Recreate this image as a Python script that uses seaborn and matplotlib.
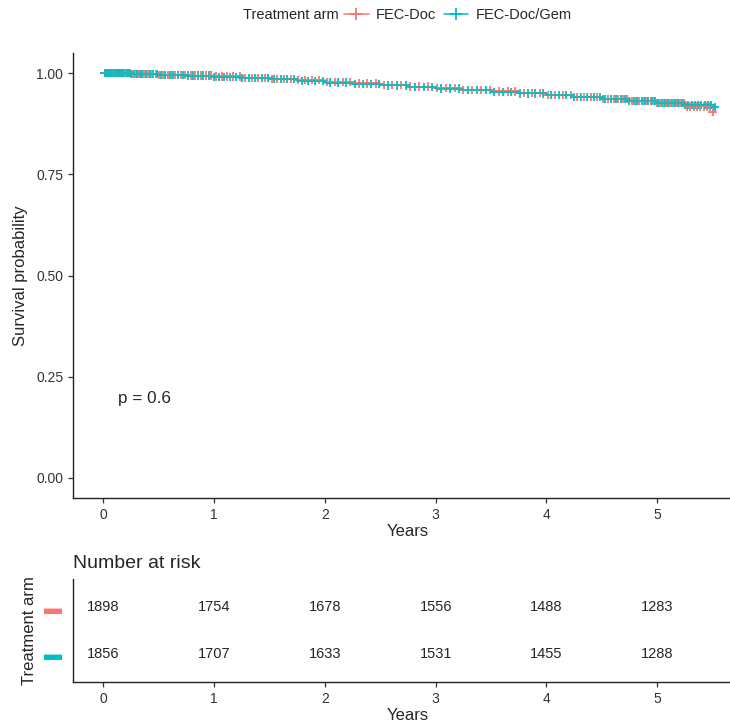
import numpy as np
import pandas as pd
import matplotlib
matplotlib.use("Agg")
import matplotlib.pyplot as plt
from matplotlib.lines import Line2D
import seaborn as sns

# =========================
# DATA
# =========================
arms = ["FEC-Doc", "FEC-Doc/Gem"]
colors = ["#F8766D", "#00BFC4"]

step_times = [0, 0.25, 0.5, 0.75, 1.0, 1.25, 1.5, 1.75, 2.0, 2.25, 2.5, 2.75,
              3.0, 3.25, 3.5, 3.75, 4.0, 4.25, 4.5, 4.75, 5.0, 5.25, 5.5]
surv_doc = [1.0, 0.998, 0.996, 0.994, 0.992, 0.989, 0.986, 0.983, 0.979, 0.975,
            0.971, 0.967, 0.963, 0.959, 0.955, 0.951, 0.947, 0.942, 0.937,
            0.932, 0.927, 0.918, 0.905]
surv_gem = [1.0, 0.998, 0.996, 0.994, 0.991, 0.988, 0.985, 0.981, 0.977, 0.974,
            0.970, 0.966, 0.962, 0.958, 0.954, 0.950, 0.946, 0.942, 0.937,
            0.932, 0.927, 0.922, 0.917]

censor_doc = [0.01, 0.02, 0.04, 0.05, 0.07, 0.08, 0.10, 0.11, 0.13, 0.15, 0.16,
              0.18, 0.20, 0.22, 0.24, 0.26, 0.29, 0.31, 0.34, 0.37, 0.40, 0.43,
              0.47, 0.50, 0.54, 0.58, 0.61, 0.65, 0.70, 0.74, 0.79, 0.83, 0.88,
              0.93, 0.97, 1.02, 1.07, 1.12, 1.17, 1.23, 1.28, 1.34, 1.40, 1.46,
              1.52, 1.57, 1.63, 1.69, 1.76, 1.82, 1.88, 1.95, 2.02, 2.09, 2.16,
              2.23, 2.31, 2.38, 2.46, 2.53, 2.61, 2.69, 2.77, 2.85, 2.93, 3.01,
              3.09, 3.17, 3.25, 3.33, 3.41, 3.49, 3.57, 3.65, 3.72, 3.80, 3.87,
              3.94, 4.01, 4.08, 4.15, 4.22, 4.28, 4.34, 4.40, 4.46, 4.51, 4.56,
              4.61, 4.65, 4.69, 4.73, 4.77, 4.81, 4.84, 4.88, 4.91, 4.94, 4.97,
              5.00, 5.03, 5.06, 5.09, 5.12, 5.15, 5.18, 5.21, 5.24, 5.27, 5.30,
              5.33, 5.36, 5.39, 5.42, 5.45, 5.48, 5.50]
censor_gem = [0.01, 0.03, 0.04, 0.06, 0.07, 0.09, 0.10, 0.12, 0.14, 0.15, 0.17,
              0.19, 0.21, 0.23, 0.25, 0.28, 0.30, 0.33, 0.35, 0.38, 0.42, 0.45,
              0.48, 0.52, 0.56, 0.60, 0.63, 0.67, 0.72, 0.76, 0.81, 0.85, 0.90,
              0.95, 1.00, 1.04, 1.09, 1.14, 1.20, 1.25, 1.31, 1.37, 1.43, 1.49,
              1.54, 1.60, 1.66, 1.72, 1.79, 1.85, 1.91, 1.98, 2.05, 2.12, 2.19,
              2.27, 2.34, 2.42, 2.49, 2.57, 2.65, 2.73, 2.81, 2.89, 2.97, 3.05,
              3.13, 3.21, 3.29, 3.37, 3.45, 3.53, 3.61, 3.68, 3.76, 3.83, 3.90,
              3.97, 4.04, 4.11, 4.18, 4.25, 4.31, 4.37, 4.43, 4.48, 4.53, 4.58,
              4.63, 4.67, 4.71, 4.75, 4.79, 4.82, 4.86, 4.89, 4.92, 4.95, 4.98,
              5.01, 5.04, 5.07, 5.10, 5.13, 5.16, 5.19, 5.22, 5.25, 5.28, 5.31,
              5.34, 5.37, 5.40, 5.43, 5.46, 5.49, 5.52]

risk_years = [0, 1, 2, 3, 4, 5]
risk_doc = [1898, 1754, 1678, 1556, 1488, 1283]
risk_gem = [1856, 1707, 1633, 1531, 1455, 1288]
p_text = "p = 0.6"

# =========================
# TABLES
# =========================
curve_df = pd.concat([
    pd.DataFrame({"time": step_times, "surv": surv_doc, "arm": arms[0]}),
    pd.DataFrame({"time": step_times, "surv": surv_gem, "arm": arms[1]}),
])


def censor_frame(times, surv, arm):
    idx = np.searchsorted(step_times, times, side="right") - 1
    return pd.DataFrame({"time": times, "surv": np.array(surv)[idx], "arm": arm})


cens_df = pd.concat([censor_frame(censor_doc, surv_doc, arms[0]),
                     censor_frame(censor_gem, surv_gem, arms[1])])

# =========================
# FIGURE
# =========================
sns.set_style("white")
plt.rcParams["font.family"] = ["Liberation Sans", "DejaVu Sans"]

W, H = 730, 724
fig = plt.figure(figsize=(W / 100, H / 100), dpi=100)


def px_axes(left, top, right, bottom):
    return fig.add_axes([left / W, 1 - bottom / H, (right - left) / W, (bottom - top) / H])


palette = dict(zip(arms, colors))

# main survival panel
ax = px_axes(73, 53, 743, 498)
sns.lineplot(data=curve_df, x="time", y="surv", hue="arm", palette=palette,
             drawstyle="steps-post", estimator=None, linewidth=1.1,
             legend=False, ax=ax)
sns.scatterplot(data=cens_df, x="time", y="surv", hue="arm", palette=palette,
                marker="+", s=36, linewidth=1.3, legend=False, ax=ax)
ax.set_xlim(-0.275, 5.775)
ax.set_ylim(-0.05, 1.05)
ax.set_xticks(risk_years)
ax.set_yticks([0, 0.25, 0.5, 0.75, 1.0])
ax.set_yticklabels(["0.00", "0.25", "0.50", "0.75", "1.00"])
ax.set_xlabel("Years", fontsize=12, labelpad=2)
ax.set_ylabel("Survival probability", fontsize=12, labelpad=6)
ax.text(0.13, 0.195, p_text, fontsize=12.3, va="center", ha="left")

# risk table
axr = px_axes(73, 579, 743, 682)
for row, counts in zip([1, 0], [risk_doc, risk_gem]):
    for yr, n in zip(risk_years, counts):
        axr.text(yr, row, str(n), ha="center", va="center", fontsize=10.5)
axr.set_xlim(-0.275, 5.775)
axr.set_ylim(-0.6, 1.6)
axr.set_xticks(risk_years)
axr.set_yticks([1, 0])
axr.set_xlabel("Years", fontsize=12, labelpad=2)
axr.set_ylabel("Treatment arm", fontsize=12, labelpad=5)
axr.set_title("Number at risk", loc="left", fontsize=14, pad=8)

for a in (ax, axr):
    sns.despine(ax=a)
    for s in ("left", "bottom"):
        a.spines[s].set_color("#222222")
        a.spines[s].set_linewidth(1.0)
    a.tick_params(axis="both", which="major", bottom=True, left=True,
                  labelsize=10, colors="#333333", length=3.5, width=0.9,
                  labelcolor="#333333")
axr.tick_params(axis="y", length=0, pad=8)
axr.set_yticklabels(["\u25ac", "\u25ac"], fontsize=13)
for lab, c in zip(axr.get_yticklabels(), colors):
    lab.set_color(c)

# legend on top
fig.text(243 / W, 1 - 15 / H, "Treatment arm", fontsize=10.5, va="center", ha="left")
handles = [Line2D([], [], color=c, marker="+", markersize=8, lw=1.1, mew=1.3)
           for c in colors]
fig.legend(handles, arms, loc="center left", bbox_to_anchor=(344 / W, 1 - 15 / H),
           ncol=2, frameon=False, fontsize=10.5, handlelength=1.7,
           handletextpad=0.5, columnspacing=0.5, borderpad=0, borderaxespad=0)

fig.savefig("out.png", dpi=100)
